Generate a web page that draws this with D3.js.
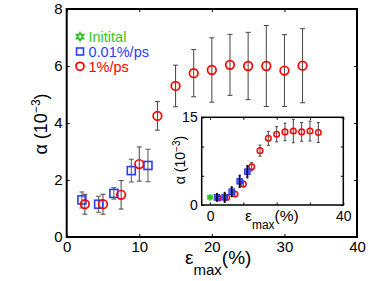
<!DOCTYPE html>
<html>
<head>
<meta charset="utf-8">
<script src="https://cdn.jsdelivr.net/npm/d3@7"></script>
<style>
  body { margin: 0; background: #fff; }
  text { font-family: "Liberation Sans", Arial, sans-serif; }
</style>
</head>
<body>
<div class="canvas"></div>
<script>
// margins and dimensions
const w = 374;
const h = 281;

// main panel data: strain (%) , alpha (1e-3), error
const redX = [2.5, 5, 7.5, 10, 12.5, 15, 17.5, 20, 22.5, 25, 27.5, 30, 32.5];
const redY = [1.15, 1.15, 1.48, 2.56, 4.25, 5.3, 5.75, 5.86, 6.04, 6.0, 6.0, 5.84, 6.01];
const redErr = [0.35, 0.35, 0.5, 0.6, 0.5, 0.73, 0.83, 1.13, 1.07, 1.18, 1.42, 1.26, 1.3];

const blueX = [2.1, 4.4, 6.5, 8.9, 11.2];
const blueY = [1.3, 1.15, 1.53, 2.33, 2.51];
const blueErr = [0.28, 0.28, 0.2, 0.4, 0.57];

// inset data
const insetInitX = [0];
const insetInitY = [1.3];
const insetRedX = [2.5, 5, 7.5, 10, 12.5, 15, 17.5, 20, 22.5, 25, 27.5, 30, 32.5];
const insetRedY = [1.2, 1.3, 1.88, 3.59, 6.55, 9.3, 11.4, 12.1, 12.5, 12.65, 12.5, 12.65, 12.4];
const insetRedErr = [0.3, 0.3, 0.4, 0.5, 0.7, 0.95, 1.2, 1.3, 1.5, 2.0, 1.6, 1.7, 1.7];
const insetBlueX = [2.1, 4.4, 6.5, 8.9, 11.2];
const insetBlueY = [1.3, 1.3, 2.27, 4.05, 5.7];
const insetBlueErr = [0.6, 0.8, 0.8, 1.0, 1.0];

const mainXTicks = [0, 10, 20, 30, 40];
const mainYTicks = [0, 2, 4, 6, 8];
const insetXTicks = [0, 10, 20, 30, 40];
const insetXLabels = ["0", "", "", "", "40"];
const insetYTicks = [0, 5, 10, 15];
const insetYLabels = ["0", "", "", "15"];

const legendItems = [
  { label: "Initital", color: "#33c42a", shape: "star" },
  { label: "0.01%/ps", color: "#2a3cff", shape: "square" },
  { label: "1%/ps", color: "#ff0000", shape: "circle" }
];

const RED = "#ff0000";
const BLUE = "#2a3cff";
const GREEN = "#33c42a";

// hexagram marker path
function hexagram(r) {
  const p = d3.path();
  for (let t = 0; t < 2; t++) {
    for (let i = 0; i < 3; i++) {
      const a = -Math.PI / 2 + t * Math.PI + (i * 2 * Math.PI) / 3;
      const px = r * Math.cos(a);
      const py = r * Math.sin(a);
      if (i === 0) p.moveTo(px, py);
      else p.lineTo(px, py);
    }
    p.closePath();
  }
  return p.toString();
}

const svg = d3.select(".canvas").append("svg").attr("width", w).attr("height", h);

// ---------- main panel ----------
const x = d3.scaleLinear().domain([0, 40]).range([66.7, 357]);
const y = d3.scaleLinear().domain([0, 8]).range([237, 9]);

const main = svg.append("g");

function framedAxes(g, xs, ys, xt, yt, xl, yl, fs, tick, pad) {
  const [x0, x1] = xs.range();
  const [y0, y1] = ys.range();
  g.append("g")
    .attr("transform", `translate(0, ${y0})`)
    .call(d3.axisBottom(xs).tickValues(xt).tickSize(-tick).tickPadding(pad).tickFormat((d, i) => xl[i]))
    .call((a) => a.select(".domain").remove())
    .call((a) => a.selectAll("text").attr("font-size", fs).attr("fill", "#000"));
  g.append("g")
    .attr("transform", `translate(${x0}, 0)`)
    .call(d3.axisLeft(ys).tickValues(yt).tickSize(-tick).tickPadding(4).tickFormat((d, i) => yl[i]))
    .call((a) => a.select(".domain").remove())
    .call((a) => a.selectAll("text").attr("font-size", fs).attr("fill", "#000"));
  g.append("g")
    .attr("transform", `translate(0, ${y1})`)
    .call(d3.axisTop(xs).tickValues(xt).tickSize(-tick).tickFormat(""))
    .call((a) => a.select(".domain").remove());
  g.append("g")
    .attr("transform", `translate(${x1}, 0)`)
    .call(d3.axisRight(ys).tickValues(yt).tickSize(-tick).tickFormat(""))
    .call((a) => a.select(".domain").remove());
}

framedAxes(main, x, y, mainXTicks, mainYTicks, mainXTicks.map(String), mainYTicks.map(String), 15, 3, 4);

// error bars helper
function errorBars(g, xs, ys, X, Y, E, color, width, cap) {
  const eb = g.append("g").attr("stroke", color).attr("stroke-width", width).attr("fill", "none");
  X.forEach((v, i) => {
    const cx = xs(v);
    const top = ys(Y[i] + E[i]);
    const bot = ys(Y[i] - E[i]);
    eb.append("line").attr("x1", cx).attr("x2", cx).attr("y1", top).attr("y2", bot);
    eb.append("line").attr("x1", cx - cap).attr("x2", cx + cap).attr("y1", top).attr("y2", top);
    eb.append("line").attr("x1", cx - cap).attr("x2", cx + cap).attr("y1", bot).attr("y2", bot);
  });
}

errorBars(main, x, y, blueX, blueY, blueErr, "#555", 1, 2.5);
errorBars(main, x, y, redX, redY, redErr, "#444", 1, 2.5);

main.append("g").selectAll("rect")
  .data(blueX)
  .join("rect")
  .attr("x", (d) => x(d) - 4)
  .attr("y", (d, i) => y(blueY[i]) - 4)
  .attr("width", 8)
  .attr("height", 8)
  .attr("fill", "none")
  .attr("stroke", BLUE)
  .attr("stroke-width", 1.6);

main.append("g").selectAll("circle")
  .data(redX)
  .join("circle")
  .attr("cx", (d) => x(d))
  .attr("cy", (d, i) => y(redY[i]))
  .attr("r", 4.3)
  .attr("fill", "none")
  .attr("stroke", RED)
  .attr("stroke-width", 1.7);

// main frame
main.append("rect")
  .attr("x", x(0)).attr("y", y(8))
  .attr("width", x(40) - x(0)).attr("height", y(0) - y(8))
  .attr("fill", "none").attr("stroke", "#000").attr("stroke-width", 2);

// legend
const legend = main.append("g");
legendItems.forEach((it, i) => {
  const ly = 36.7 + i * 14.8;
  if (it.shape === "star") {
    legend.append("path").attr("d", hexagram(4.2)).attr("transform", `translate(80, ${ly})`)
      .attr("fill", "none").attr("stroke", it.color).attr("stroke-width", 1.5);
  } else if (it.shape === "square") {
    legend.append("rect").attr("x", 76.5).attr("y", ly - 3.5).attr("width", 7).attr("height", 7)
      .attr("fill", "none").attr("stroke", it.color).attr("stroke-width", 1.6);
  } else {
    legend.append("circle").attr("cx", 80).attr("cy", ly).attr("r", 4)
      .attr("fill", "none").attr("stroke", it.color).attr("stroke-width", 1.7);
  }
  legend.append("text").attr("x", 88.5).attr("y", ly).attr("dy", "0.36em")
    .attr("font-size", 14.5).attr("fill", it.color).text(it.label);
});

// axis labels
const xl = svg.append("text").attr("x", 185).attr("y", 264).attr("font-size", 19);
xl.append("tspan").text("ε");
xl.append("tspan").attr("font-size", 15).attr("dy", 11).text("max");
xl.append("tspan").attr("dy", -11).text("(%)");

const yl = svg.append("text").attr("transform", "translate(47, 124) rotate(-90)")
  .attr("text-anchor", "middle").attr("font-size", 18);
yl.append("tspan").text("α (10");
yl.append("tspan").attr("font-size", 12).attr("dy", -7).text("−3");
yl.append("tspan").attr("dy", 7).text(")");

// ---------- inset ----------
const ix = d3.scaleLinear().domain([-2.5, 40]).range([201.7, 343.3]);
const iy = d3.scaleLinear().domain([0, 15]).range([205, 117.3]);

const inset = svg.append("g");
inset.append("rect")
  .attr("x", 201.7).attr("y", 117.3).attr("width", 343.3 - 201.7).attr("height", 205 - 117.3)
  .attr("fill", "#fff");

framedAxes(inset, ix, iy, insetXTicks, insetYTicks, insetXLabels, insetYLabels, 14, 2.5, 6);

errorBars(inset, ix, iy, insetRedX, insetRedY, insetRedErr, "#444", 1, 1.5);

inset.append("g").selectAll("circle")
  .data(insetRedX)
  .join("circle")
  .attr("cx", (d) => ix(d))
  .attr("cy", (d, i) => iy(insetRedY[i]))
  .attr("r", 2.8)
  .attr("fill", "none")
  .attr("stroke", RED)
  .attr("stroke-width", 1.5);

inset.append("g").selectAll("rect")
  .data(insetBlueX)
  .join("rect")
  .attr("x", (d) => ix(d) - 2.8)
  .attr("y", (d, i) => iy(insetBlueY[i]) - 2.8)
  .attr("width", 5.6)
  .attr("height", 5.6)
  .attr("fill", BLUE)
  .attr("fill-opacity", 0.8)
  .attr("stroke", BLUE)
  .attr("stroke-width", 1);

errorBars(inset, ix, iy, insetBlueX, insetBlueY, insetBlueErr, "#111", 1.8, 1);

inset.append("g").selectAll("path")
  .data(insetInitX)
  .join("path")
  .attr("d", hexagram(3.3))
  .attr("transform", (d, i) => `translate(${ix(d)}, ${iy(insetInitY[i])})`)
  .attr("fill", GREEN)
  .attr("stroke", GREEN)
  .attr("stroke-width", 1);

inset.append("rect")
  .attr("x", 201.7).attr("y", 117.3).attr("width", 343.3 - 201.7).attr("height", 205 - 117.3)
  .attr("fill", "none").attr("stroke", "#000").attr("stroke-width", 1.5);

const ixl = svg.append("text").attr("x", 245).attr("y", 221).attr("font-size", 15.5);
ixl.append("tspan").text("ε");
ixl.append("tspan").attr("font-size", 12).attr("dy", 8).text("max");
ixl.append("tspan").attr("dy", -8).text("(%)");

const iyl = svg.append("text").attr("transform", "translate(185, 160) rotate(-90)")
  .attr("text-anchor", "middle").attr("font-size", 14);
iyl.append("tspan").text("α (10");
iyl.append("tspan").attr("font-size", 10).attr("dy", -5).text("−3");
iyl.append("tspan").attr("dy", 5).text(")");
</script>
</body>
</html>
